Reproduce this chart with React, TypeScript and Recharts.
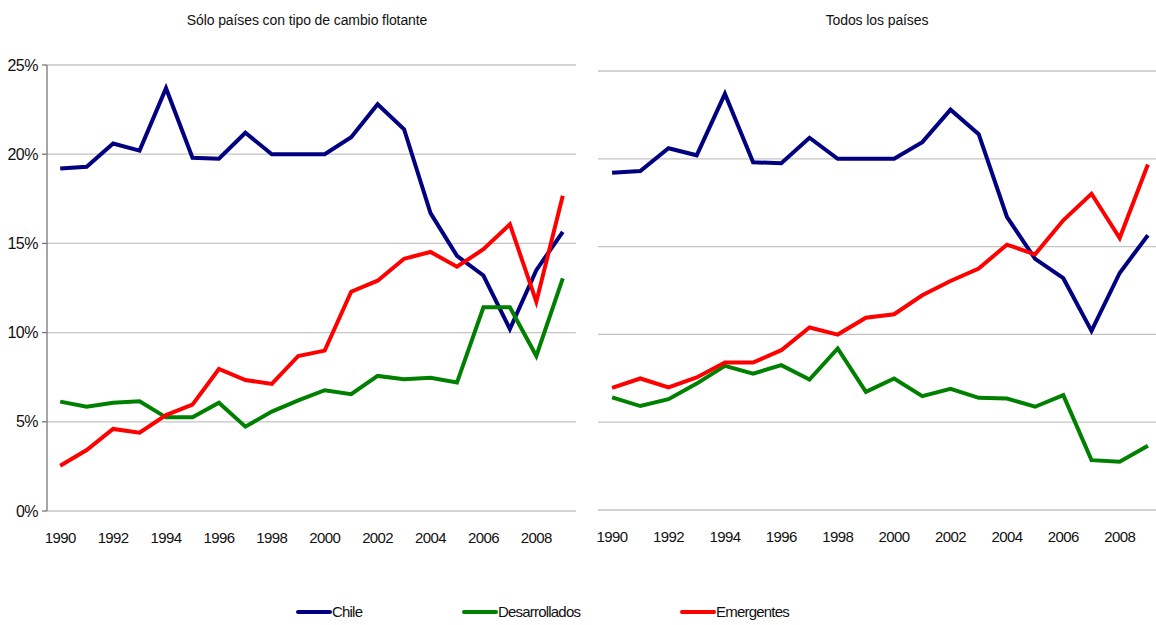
import { CartesianGrid, Line, LineChart, XAxis, YAxis } from "recharts"

const years = [1990, 1991, 1992, 1993, 1994, 1995, 1996, 1997, 1998, 1999, 2000, 2001, 2002, 2003, 2004, 2005, 2006, 2007, 2008, 2009]
const yearLabels = [1990, 1992, 1994, 1996, 1998, 2000, 2002, 2004, 2006, 2008]
const pctTicks = [0, 5, 10, 15, 20, 25]

// Chile es la misma serie en ambos paneles
const chile = [19.2, 19.3, 20.6, 20.2, 23.7, 19.8, 19.75, 21.2, 20.0, 20.0, 20.0, 20.95, 22.8, 21.4, 16.7, 14.3, 13.2, 10.2, 13.5, 15.65]

// Sólo países con tipo de cambio flotante
const desarrolladosFlot = [6.13, 5.85, 6.07, 6.15, 5.25, 5.25, 6.07, 4.73, 5.57, 6.2, 6.77, 6.55, 7.57, 7.38, 7.47, 7.2, 11.42, 11.42, 8.69, 13.04]
const emergentesFlot = [2.54, 3.42, 4.6, 4.39, 5.38, 5.96, 7.96, 7.34, 7.12, 8.69, 8.99, 12.29, 12.91, 14.14, 14.52, 13.69, 14.67, 16.07, 11.73, 17.67]

// Todos los países
const desarrolladosTodos = [6.41, 5.92, 6.31, 7.2, 8.21, 7.77, 8.25, 7.43, 9.2, 6.73, 7.49, 6.48, 6.9, 6.39, 6.35, 5.88, 6.54, 2.84, 2.75, 3.66]
const emergentesTodos = [6.96, 7.49, 6.98, 7.55, 8.4, 8.4, 9.1, 10.39, 9.99, 10.95, 11.15, 12.23, 13.04, 13.75, 15.11, 14.56, 16.5, 18.01, 15.49, 19.68]

const seriesNames = ["Chile", "Desarrollados", "Emergentes"]
const seriesColors = ["#000080", "#008000", "#ff0000"]

const FONT = '"Liberation Sans Narrow", "Arial Narrow", "Liberation Sans", Arial, sans-serif'

// límites entre categorías, donde van las marcas del eje X
const boundaries = [...years.map((y) => y - 0.5), years[years.length - 1] + 0.5]
const xDomain = [boundaries[0], boundaries[boundaries.length - 1]]

const buildRows = (des: number[], emg: number[]) =>
    years.map((year, i) => ({
        year,
        Chile: chile[i],
        Desarrollados: des[i],
        Emergentes: emg[i],
    }))

const flotData = buildRows(desarrolladosFlot, emergentesFlot)
const todosData = buildRows(desarrolladosTodos, emergentesTodos)

type PanelProps = {
    data: ReturnType<typeof buildRows>
    width: number
    margin: { top: number; right: number; left: number; bottom: number }
    showY: boolean
    labelMargin: number
}

function Panel({ data, width, margin, showY, labelMargin }: PanelProps) {
    return (
        <LineChart width={width} height={560} data={data} margin={margin}>
            <CartesianGrid xAxisId="marks" vertical={false} stroke="#c4c4c4" strokeWidth={1.3} />
            <XAxis
                xAxisId="marks"
                dataKey="year"
                type="number"
                domain={xDomain}
                ticks={boundaries}
                allowDataOverflow
                tick={false}
                tickSize={6}
                height={0}
                stroke="#555555"
                strokeWidth={1.3}
            />
            <XAxis
                xAxisId="labels"
                dataKey="year"
                type="number"
                domain={xDomain}
                ticks={yearLabels}
                allowDataOverflow
                axisLine={false}
                tickLine={false}
                tickSize={0}
                tickMargin={labelMargin}
                height={40}
                tick={{ fill: "#111", fontSize: 15, fontFamily: FONT, letterSpacing: -0.6 }}
            />
            <YAxis
                domain={[0, 25]}
                ticks={pctTicks}
                hide={!showY}
                width={47}
                tickFormatter={(v) => `${v}%`}
                stroke="#777777"
                strokeWidth={1.3}
                tickSize={5}
                tickMargin={4}
                tick={{ fill: "#111", fontSize: 16, fontFamily: FONT, letterSpacing: -0.5 }}
            />
            {seriesNames.map((name, i) => (
                <Line
                    key={name}
                    xAxisId="marks"
                    dataKey={name}
                    stroke={seriesColors[i]}
                    strokeWidth={4}
                    dot={false}
                    isAnimationActive={false}
                />
            ))}
        </LineChart>
    )
}

export default function App() {
    return (
        <div style={{ position: "relative", width: 1156, height: 625, overflow: "hidden", background: "#fff", fontFamily: FONT }}>
            <style>{`body{margin:0}`}</style>
            <div style={{ position: "absolute", left: 0, top: 0 }}>
                <Panel data={flotData} width={580} margin={{ top: 65, right: 4, left: 0, bottom: 9 }} showY labelMargin={21} />
            </div>
            <div style={{ position: "absolute", left: 590, top: 0 }}>
                <Panel data={todosData} width={600} margin={{ top: 71, right: 28, left: 8, bottom: 10 }} showY={false} labelMargin={21} />
            </div>
            <div style={{ position: "absolute", left: 107, width: 400, top: 12, textAlign: "center", fontSize: 14, letterSpacing: -0.1, color: "#111" }}>
                Sólo países con tipo de cambio flotante
            </div>
            <div style={{ position: "absolute", left: 677, width: 400, top: 12, textAlign: "center", fontSize: 14, letterSpacing: -0.1, color: "#111" }}>
                Todos los países
            </div>
            {seriesNames.map((name, i) => (
                <div
                    key={name}
                    style={{ position: "absolute", left: [296, 462, 680][i], top: 603, display: "flex", alignItems: "center", fontSize: 15, letterSpacing: -0.8, color: "#111" }}
                >
                    <span style={{ display: "inline-block", width: 36, height: 4, borderRadius: 2, background: seriesColors[i] }} />
                    <span>{name}</span>
                </div>
            ))}
        </div>
    )
}
